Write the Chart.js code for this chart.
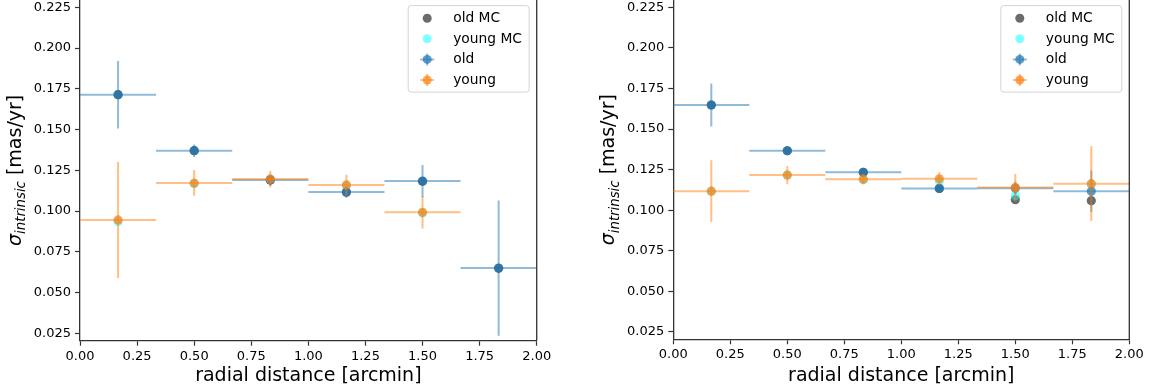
<!DOCTYPE html>
<html>
<head>
<meta charset="utf-8">
<script src="https://cdn.jsdelivr.net/npm/chart.js@4.4.1/dist/chart.umd.min.js"></script>
<style>
  body { margin: 0; background: #fff; width: 1157px; height: 392px; overflow: hidden; position: relative; }
  canvas { position: absolute; top: 0; }
</style>
</head>
<body>
<canvas id="leftChart" width="578" height="392" style="left:0px"></canvas>
<canvas id="rightChart" width="579" height="392" style="left:578px"></canvas>
<script>
// radial bins [arcmin]
const binCenters = [0.1667, 0.5, 0.8333, 1.1667, 1.5, 1.8333];
const binHalfWidth = [0.1667, 0.1667, 0.1667, 0.1667, 0.1667, 0.1667];

// left panel
const oldLeft = [0.1714, 0.1370, 0.1190, 0.1117, 0.1184, 0.0650];
const oldLeftErr = [0.0207, 0.0038, 0.0035, 0.0035, 0.0099, 0.0415];
const youngLeft = [0.0945, 0.1172, 0.1196, 0.1160, 0.0992];
const youngLeftErr = [0.0356, 0.0079, 0.0050, 0.0063, 0.0100];
const oldMCLeft = [0.1714, 0.1370, 0.1190, 0.1115, 0.1182, 0.0648];
const youngMCLeft = [0.0935, 0.1168, 0.1193, 0.1157, 0.0988];

// right panel
const oldRight = [0.1648, 0.1366, 0.1233, 0.1134, 0.1135, 0.1116];
const oldRightErr = [0.0133, 0.0025, 0.0025, 0.0025, 0.0040, 0.0128];
const youngRight = [0.1117, 0.1216, 0.1191, 0.1193, 0.1140, 0.1163];
const youngRightErr = [0.0190, 0.0056, 0.0032, 0.0040, 0.0083, 0.0230];
const oldMCRight = [0.1648, 0.1366, 0.1233, 0.1134, 0.1064, 0.1058];
const youngMCRight = [0.1117, 0.1216, 0.1188, 0.1180, 0.1089, 0.1160];

// ticks
const xTicks = [0, 0.25, 0.5, 0.75, 1, 1.25, 1.5, 1.75, 2];
const yTicks = [0.025, 0.05, 0.075, 0.1, 0.125, 0.15, 0.175, 0.2, 0.225];

const FONT = 'DejaVu Sans';

function toPoints(vals) {
  return vals.map((v, i) => ({x: binCenters[i], y: v}));
}

// draws x/y error bars under each dataset's markers
const errorBars = {
  id: 'errorBars',
  beforeDatasetDraw(chart, args) {
    const ds = chart.data.datasets[args.index];
    if (!ds.yErr) return;
    const xs = chart.scales.x, ys = chart.scales.y;
    const ctx = chart.ctx;
    ctx.save();
    ctx.strokeStyle = ds.errColor;
    ctx.lineWidth = 2;
    ds.data.forEach((p, i) => {
      const px = xs.getPixelForValue(p.x), py = ys.getPixelForValue(p.y);
      ctx.beginPath();
      ctx.moveTo(xs.getPixelForValue(p.x - ds.xErr[i]), py);
      ctx.lineTo(xs.getPixelForValue(p.x + ds.xErr[i]), py);
      ctx.moveTo(px, ys.getPixelForValue(p.y - ds.yErr[i]));
      ctx.lineTo(px, ys.getPixelForValue(p.y + ds.yErr[i]));
      ctx.stroke();
    });
    ctx.restore();
  }
};

// right spine + legend box + y label with subscript
const frame = {
  id: 'frame',
  afterDraw(chart) {
    const {ctx, chartArea} = chart;
    ctx.save();
    ctx.strokeStyle = '#333';
    ctx.lineWidth = 1.3;
    ctx.beginPath();
    ctx.moveTo(chartArea.right, chartArea.top);
    ctx.lineTo(chartArea.right, chartArea.bottom);
    ctx.stroke();

    // legend
    const w = 121, h = 86.5, left = chartArea.right - 7.5 - w, top = 5.6;
    ctx.beginPath();
    ctx.roundRect(left, top, w, h, 3);
    ctx.fillStyle = 'rgba(255,255,255,0.8)';
    ctx.fill();
    ctx.strokeStyle = '#d4d4d4';
    ctx.lineWidth = 1;
    ctx.stroke();
    ctx.font = '13.8px "' + FONT + '"';
    ctx.textBaseline = 'middle';
    chart.data.datasets.forEach((ds, i) => {
      const cy = top + 12.6 + i * 20.6;
      const mx = left + 19;
      if (ds.yErr) {
        ctx.strokeStyle = ds.errColor;
        ctx.lineWidth = 2;
        ctx.beginPath();
        ctx.moveTo(mx - 7, cy); ctx.lineTo(mx + 7, cy);
        ctx.moveTo(mx, cy - 6); ctx.lineTo(mx, cy + 6);
        ctx.stroke();
      }
      ctx.beginPath();
      ctx.arc(mx, cy, 4.5, 0, Math.PI * 2);
      ctx.fillStyle = ds.backgroundColor;
      ctx.fill();
      ctx.fillStyle = '#000';
      ctx.fillText(ds.label, left + 45, cy + 0.5);
    });

    // y axis title: sigma_intrinsic [mas/yr]
    const fMain = '19px "' + FONT + '"';
    const fIt = 'italic 19px "' + FONT + '"';
    const fSub = 'italic 13.3px "' + FONT + '"';
    ctx.font = fIt; const w1 = ctx.measureText('σ').width;
    ctx.font = fSub; const w2 = ctx.measureText('intrinsic').width;
    ctx.font = fMain; const w3 = ctx.measureText(' [mas/yr]').width;
    ctx.translate(chartArea.left - 59.3, (chartArea.top + chartArea.bottom) / 2);
    ctx.rotate(-Math.PI / 2);
    ctx.textBaseline = 'alphabetic';
    ctx.fillStyle = '#000';
    let x0 = -(w1 + w2 + w3) / 2;
    ctx.font = fIt; ctx.fillText('σ', x0, 0); x0 += w1;
    ctx.font = fSub; ctx.fillText('intrinsic', x0, 4.5); x0 += w2;
    ctx.font = fMain; ctx.fillText(' [mas/yr]', x0, 0);
    ctx.restore();
  }
};

function makeChart(id, oldV, oldE, youngV, youngE, oldMC, youngMC, axisWidth, axisHeight, padRight) {
  const data = {
    datasets: [
      {label: 'old MC', data: toPoints(oldMC), backgroundColor: 'rgba(0,0,0,0.58)', order: 4},
      {label: 'young MC', data: toPoints(youngMC), backgroundColor: 'rgba(0,255,255,0.5)', order: 3},
      {label: 'old', data: toPoints(oldV), backgroundColor: 'rgba(31,119,180,0.72)', order: 2,
       xErr: binHalfWidth, yErr: oldE, errColor: 'rgba(31,119,180,0.5)'},
      {label: 'young', data: toPoints(youngV), backgroundColor: 'rgba(255,127,14,0.7)', order: 1,
       xErr: binHalfWidth, yErr: youngE, errColor: 'rgba(255,127,14,0.5)'}
    ]
  };
  const tickFont = {family: FONT, size: 13};
  const options = {
    responsive: false,
    animation: false,
    layout: {autoPadding: false, padding: {top: 0, left: 0, bottom: 0, right: padRight}},
    elements: {point: {radius: 4.6, hoverRadius: 4.6, borderWidth: 0}},
    plugins: {legend: {display: false}, tooltip: {enabled: false}},
    scales: {
      x: {
        type: 'linear', min: 0, max: 2,
        afterBuildTicks: (s) => { s.ticks = xTicks.map(v => ({value: v})); },
        afterFit: (s) => { s.height = axisHeight; s.paddingLeft = 0; s.paddingRight = 0; },
        ticks: {font: tickFont, color: '#000', padding: 3, maxRotation: 0, autoSkip: false,
                callback: (v) => Number(v).toFixed(2)},
        grid: {drawOnChartArea: false, drawTicks: true, tickLength: 5, tickColor: '#333', tickWidth: 1.2},
        border: {display: true, color: '#333', width: 1.3},
        title: {display: true, text: 'radial distance [arcmin]', color: '#000',
                font: {family: FONT, size: 19}, padding: {top: 0, bottom: 4.6}}
      },
      y: {
        type: 'linear', min: 0.0204, max: 0.2295,
        afterBuildTicks: (s) => { s.ticks = yTicks.map(v => ({value: v})); },
        afterFit: (s) => { s.width = axisWidth; s.paddingTop = 0; s.paddingBottom = 0; },
        ticks: {font: tickFont, color: '#000', padding: 4, autoSkip: false,
                callback: (v) => Number(v).toFixed(3)},
        grid: {drawOnChartArea: false, drawTicks: true, tickLength: 5, tickColor: '#333', tickWidth: 1.2},
        border: {display: true, color: '#333', width: 1.3}
      }
    }
  };
  return new Chart(document.getElementById(id), {
    type: 'scatter', data, options, plugins: [errorBars, frame]
  });
}

makeChart('leftChart', oldLeft, oldLeftErr, youngLeft, youngLeftErr, oldMCLeft, youngMCLeft, 80, 51.3, 41.3);
makeChart('rightChart', oldRight, oldRightErr, youngRight, youngRightErr, oldMCRight, youngMCRight, 95.3, 52.7, 27.7);
</script>
</body>
</html>
